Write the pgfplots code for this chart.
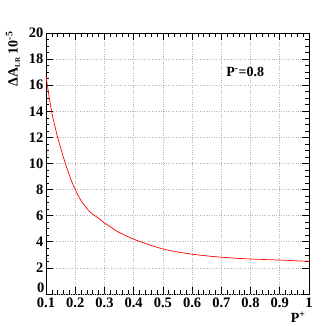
\documentclass[border=0pt]{standalone}
\usepackage{fontspec}
\setmainfont{Liberation Serif}
\usepackage{pgfplots}
\pgfplotsset{compat=1.18}

\begin{document}
\begin{tikzpicture}
\path[use as bounding box] (-46pt,-33pt) rectangle (287pt,294pt);
\begin{axis}[
    scale only axis,
    width=263pt,
    height=261pt,
    at={(0,0)}, anchor=south west,
    xmin=0.1, xmax=1,
    ymin=0, ymax=20,
    xtick={0.1,0.2,...,1.0},
    xticklabels={\textbf{0.1},\textbf{0.2},\textbf{0.3},\textbf{0.4},\textbf{0.5},\textbf{0.6},\textbf{0.7},\textbf{0.8},\textbf{0.9},\textbf{1}},
    ytick={2,4,...,20},
    yticklabels={\textbf{2},\textbf{4},\textbf{6},\textbf{8},\textbf{10},\textbf{12},\textbf{14},\textbf{16},\textbf{18},\textbf{20}},
    extra y ticks={0},
    extra y tick labels={\textbf{0}},
    extra y tick style={yticklabel style={yshift=6pt, xshift=1pt}},
    minor x tick num=4,
    minor y tick num=3,
    tick align=inside,
    major tick length=7pt,
    minor tick length=3.5pt,
    tick style={black, line width=0.6pt},
    axis line style={line width=0.8pt},
    grid=major,
    major grid style={gray!60, dotted, line width=0.6pt},
    tick label style={font=\fontsize{14.5}{16}\selectfont\bfseries},
    yticklabel style={xshift=1pt},
    clip=false,
]
\addplot[red, line width=0.7pt, smooth] coordinates {
(0.10,16.7) (0.11,15.2) (0.12,13.9) (0.13,12.9) (0.14,12.0)
(0.15,11.2) (0.16,10.45) (0.17,9.75) (0.18,9.1) (0.19,8.5)
(0.20,8.0) (0.22,7.15) (0.25,6.3) (0.28,5.8) (0.30,5.45)
(0.33,5.0) (0.35,4.72) (0.40,4.2) (0.45,3.8) (0.50,3.45)
(0.55,3.22) (0.60,3.05) (0.65,2.92) (0.70,2.82) (0.75,2.74)
(0.80,2.68) (0.85,2.64) (0.90,2.6) (0.95,2.55) (1.00,2.5)
};
\node[anchor=west, font=\fontsize{14}{16}\selectfont\bfseries] at (axis cs:0.705,17.0) {P\textsuperscript{-}=0.8};
\end{axis}
\node[rotate=90, anchor=east, font=\fontsize{14}{16}\selectfont\bfseries] at (-33pt,266pt) {ΔA\raisebox{-0.35ex}{\scriptsize LR} 10\textsuperscript{-5}};
\node[anchor=north east, font=\fontsize{14}{16}\selectfont\bfseries] at (263pt,-14pt) {P\textsuperscript{+}};
\end{tikzpicture}
\end{document}
